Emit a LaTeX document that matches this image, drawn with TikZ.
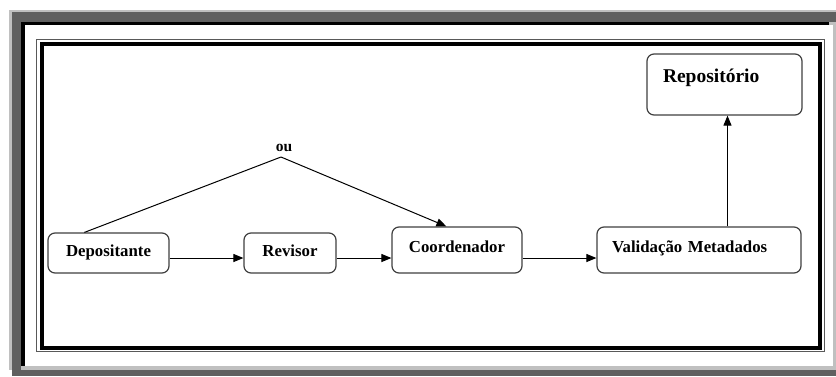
\documentclass[tikz,border=0pt]{standalone}
\usepackage{fontspec}
\setmainfont{Liberation Serif}
\usetikzlibrary{arrows.meta}
\definecolor{lg}{HTML}{C0C0C0}
\definecolor{dg}{HTML}{606060}
\begin{document}
\begin{tikzpicture}[x=1pt,y=-1pt,
  box/.style={draw=black!75, line width=1.2pt, rounded corners=7pt, inner ysep=0pt,
    font=\bfseries\fontsize{16.8}{18}\selectfont},
  conn/.style={line width=1pt, -{Triangle[length=10pt,width=8pt]}},
  plain/.style={line width=1pt}]
\useasboundingbox (0,0) rectangle (836,376);
\fill[white] (0,0) rectangle (836,376);
% page border
\fill[lg] (9,10) rectangle (836,370);
\fill[dg] (12,12) rectangle (836,22);
\fill[dg] (12,12) rectangle (21,376);
\fill[dg] (12,370) rectangle (836,376);
\fill[black] (21,22) rectangle (829,25);
\fill[black] (21,22) rectangle (25,366);
\fill[white] (25,25) rectangle (833,366);
% inner frame
\draw[line width=1pt, black!65] (36.5,39.5) rectangle (824,351.5);
\draw[line width=4pt] (42,44) rectangle (820,347.5);
% nodes
\node[box, minimum width=121pt, text height=23pt, text depth=17pt] (dep) at (108.5,253) {Depositante};
\node[box, minimum width=92pt, text height=23pt, text depth=17pt] (rev) at (290,253) {Revisor};
\node[box, minimum width=130pt, text height=25pt, text depth=21pt] (coord) at (457,250) {Coordenador};
\node[box, text width=174pt, inner xsep=15pt, align=left, text height=25pt, text depth=21pt] (val) at (699,250) {Validação Metadados};
\node[box, text width=123pt, inner xsep=16pt, align=left, text height=28pt, text depth=33pt,
  font=\bfseries\fontsize{19.5}{22}\selectfont] (repo) at (724.5,84.5) {Repositório};
\node[font=\bfseries\fontsize{15.5}{17}\selectfont, inner sep=0pt] (ou) at (284,148) {ou};
\coordinate (apex) at (281,157);
% connectors
\draw[conn] ([yshift=-5pt]dep.east) -- ([yshift=-5pt]rev.west);
\draw[conn] ([yshift=-5pt]rev.east) -- ([yshift=-8pt]coord.west);
\draw[conn] ([yshift=-8pt]coord.east) -- ([yshift=-8pt]val.west);
\draw[conn] ([xshift=28.5pt]val.north) -- ([xshift=3pt]repo.south);
\draw[plain] ([xshift=37pt]dep.north west) -- (apex);
\draw[conn] (apex) -- ([xshift=55pt]coord.north west);
\end{tikzpicture}
\end{document}
